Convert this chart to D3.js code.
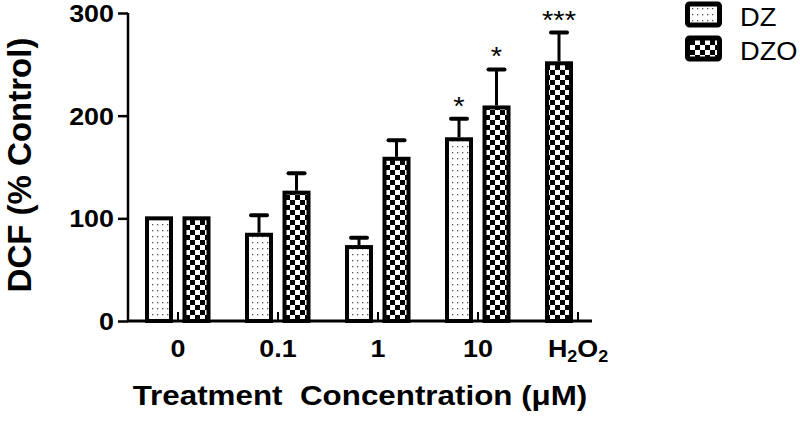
<!DOCTYPE html>
<html><head><meta charset="utf-8">
<script src="https://cdn.jsdelivr.net/npm/d3@7"></script>
<style>body{margin:0;background:#fff}svg{display:block}text{font-family:Arial,"Liberation Sans",sans-serif;fill:#000}</style>
</head><body>
<svg id="c" width="800" height="422"></svg>
<script>
const categories = ["0", "0.1", "1", "10", "H2O2"];
const seriesNames = ["DZ", "DZO"];
const dzMean = [100, 84, 72, 177, null];
const dzErr  = [0, 19, 9, 20, null];
const dzSig  = ["", "", "", "*", ""];
const dzoMean = [100, 125, 158, 208, 251];
const dzoErr  = [0, 19, 18, 37, 30];
const dzoSig  = ["", "", "", "*", "***"];
const yTicks = [0, 100, 200, 300];
const yTitle = "DCF (% Control)";
const xTitle = "Treatment  Concentration (\u03BCM)";

const SX = 1.12; // horizontal stretch of the original lettering
const svg = d3.select("#c");
const defs = svg.append("defs");

// patterns
const pd = defs.append("pattern").attr("id","dots").attr("patternUnits","userSpaceOnUse")
  .attr("width",5).attr("height",6);
pd.append("rect").attr("width",5).attr("height",6).attr("fill","#fff");
pd.append("rect").attr("x",2).attr("y",2).attr("width",1.3).attr("height",1.3).attr("fill","#555");
const pc = defs.append("pattern").attr("id","check").attr("patternUnits","userSpaceOnUse")
  .attr("width",10).attr("height",10);
pc.append("rect").attr("width",10).attr("height",10).attr("fill","#fff");
pc.append("rect").attr("width",5).attr("height",5).attr("fill","#000");
pc.append("rect").attr("x",5).attr("y",5).attr("width",5).attr("height",5).attr("fill","#000");
const fills = {DZ:"url(#dots)", DZO:"url(#check)"};

const y = d3.scaleLinear().domain([0,300]).range([321,13]);
const x0 = d3.scaleBand().domain(categories).range([128,628]).padding(0);
const x1 = d3.scaleBand().domain([0,1]).range([19,80.5]).paddingInner(0.36).paddingOuter(0);

// build bars
const bars = [];
categories.forEach((c,i) => {
  const rows = [
    {s:"DZ", m:dzMean[i], e:dzErr[i], sig:dzSig[i]},
    {s:"DZO", m:dzoMean[i], e:dzoErr[i], sig:dzoSig[i]}
  ].filter(r => r.m != null);
  rows.forEach((r,k) => bars.push({...r, cat:c, slot:k}));
});
const bx = d => x0(d.cat) + x1(d.slot);
const bw = x1.bandwidth();

function stretchedText(g, tx, ty, str, size, weight, anchor, rot, sx) {
  const k = sx == null ? SX : sx;
  const t = g.append("text")
    .attr("transform", `translate(${tx},${ty}) scale(${k},1)` + (rot ? ` rotate(${rot})` : ""))
    .attr("font-size", size).attr("font-weight", weight).attr("text-anchor", anchor);
  return t.text(str);
}

// bars
const gb = svg.append("g");
gb.selectAll("rect.bar").data(bars).join("rect").attr("class","bar")
  .attr("x", bx).attr("width", bw)
  .attr("y", d => y(d.m)).attr("height", d => y(0) - y(d.m))
  .attr("fill", d => fills[d.s]).attr("stroke","#000").attr("stroke-width",4);

// error bars (upper only)
const eb = bars.filter(d => d.e > 0);
gb.selectAll("line.err").data(eb).join("line")
  .attr("x1", d => bx(d)+bw/2).attr("x2", d => bx(d)+bw/2)
  .attr("y1", d => y(d.m)-2).attr("y2", d => y(d.m+d.e))
  .attr("stroke","#000").attr("stroke-width",3);
gb.selectAll("line.cap").data(eb).join("line")
  .attr("x1", d => bx(d)+bw/2-8).attr("x2", d => bx(d)+bw/2+8)
  .attr("y1", d => y(d.m+d.e)).attr("y2", d => y(d.m+d.e))
  .attr("stroke","#000").attr("stroke-width",4).attr("stroke-linecap","round");

// significance stars
bars.filter(d => d.sig).forEach(d => {
  stretchedText(svg, bx(d)+bw/2, y(d.m+d.e)-4, d.sig, 26, "normal", "middle");
});

// y axis
const yAxis = d3.axisLeft(y).tickValues(yTicks).tickSize(10).tickPadding(4);
const ga = svg.append("g").attr("transform","translate(128,0)").call(yAxis);
ga.select(".domain").attr("stroke-width",2.5).attr("d","M0,13V322");
ga.selectAll(".tick line").attr("stroke-width",2.5);
ga.selectAll(".tick text").each(function(d){
  const t = d3.select(this);
  t.attr("font-size",24).attr("font-weight","bold").attr("font-family",null)
   .attr("dy",null).attr("x",null)
   .attr("transform",`translate(-14,8.5) scale(${SX},1)`);
});

// x axis baseline + small inner ticks
svg.append("line").attr("x1",127).attr("x2",592).attr("y1",321).attr("y2",321)
  .attr("stroke","#000").attr("stroke-width",3);
svg.selectAll("line.xt").data(categories).join("line")
  .attr("x1", c => x0(c)+x0.bandwidth()/2).attr("x2", c => x0(c)+x0.bandwidth()/2)
  .attr("y1",321).attr("y2",312).attr("stroke","#000").attr("stroke-width",2);

// x tick labels
categories.forEach(c => {
  const cx = x0(c)+x0.bandwidth()/2;
  const t = stretchedText(svg, cx, 357, "", 24, "bold", "middle");
  if (c === "H2O2") {
    t.append("tspan").text("H");
    t.append("tspan").attr("font-size",16).attr("dy",5).text("2");
    t.append("tspan").attr("dy",-5).text("O");
    t.append("tspan").attr("font-size",16).attr("dy",5).text("2");
  } else t.text(c);
});

// axis titles
stretchedText(svg, 360, 405, xTitle, 28, "bold", "middle").attr("xml:space","preserve").style("white-space","pre");
stretchedText(svg, 31, 165, yTitle, 33, "bold", "middle", -90, 1);

// legend
const lg = svg.append("g");
seriesNames.forEach((s,i) => {
  const yy = [3, 37][i];
  lg.append("rect").attr("x",687.5).attr("y",yy+1).attr("width",32).attr("height",21).attr("rx",2)
    .attr("fill",fills[s]).attr("stroke","#000").attr("stroke-width",5);
  stretchedText(lg, 740, yy+23, s, 26, "normal", "start", null, 1.05);
});
</script>
</body></html>
